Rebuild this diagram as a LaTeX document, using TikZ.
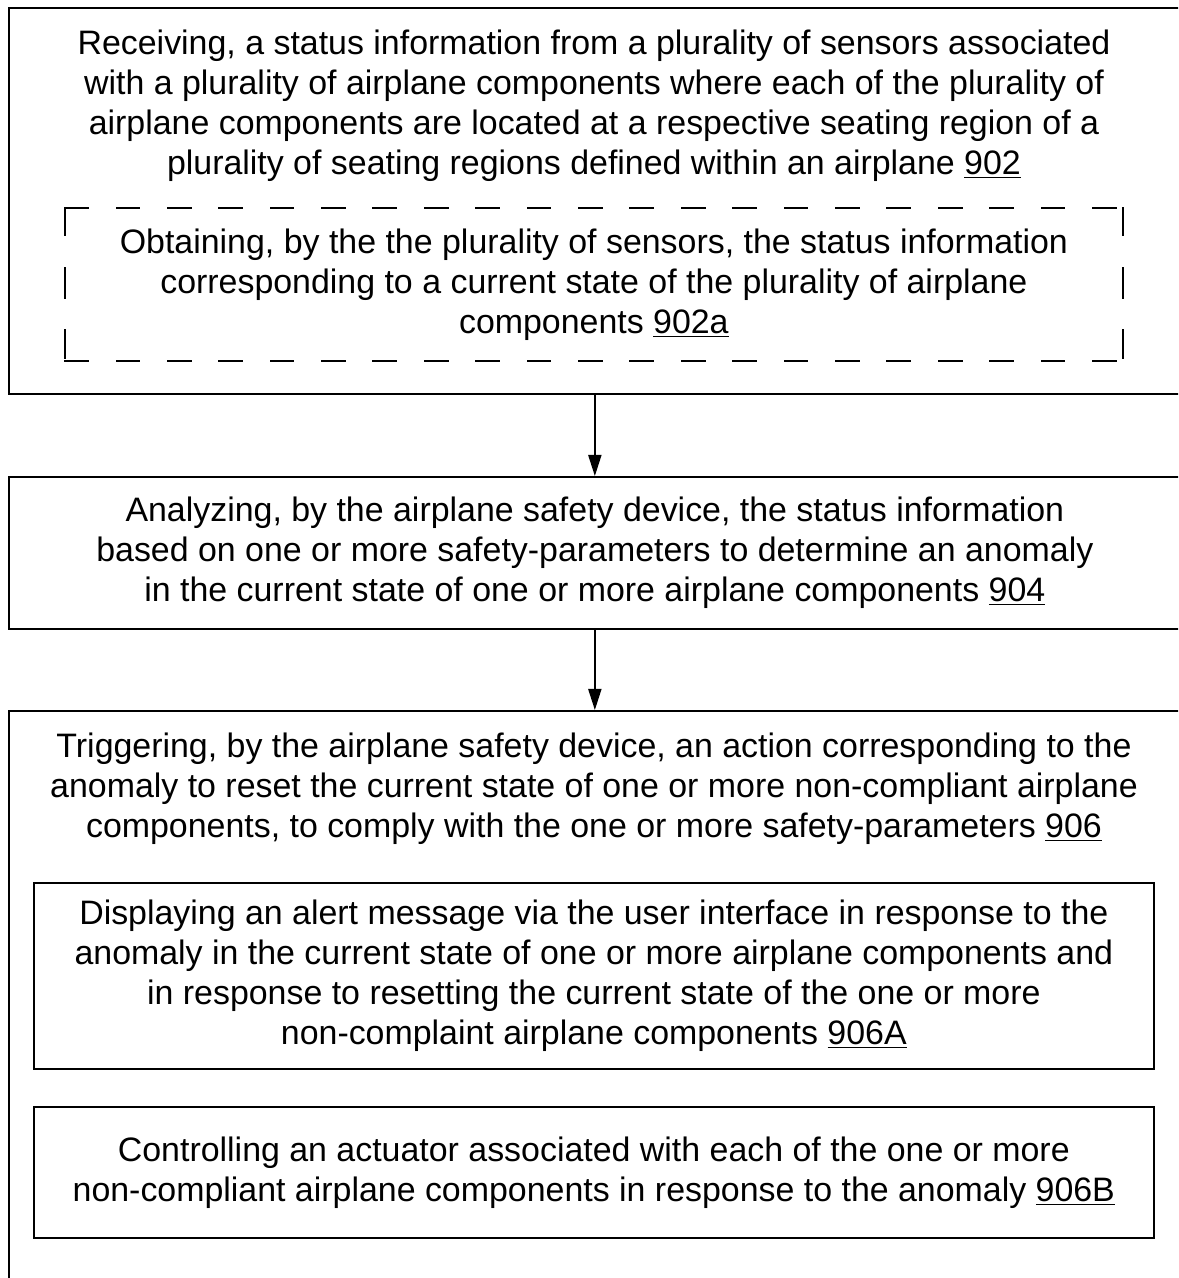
\documentclass[tikz,border=0pt]{standalone}
\usepackage{fontspec}
\setmainfont{Liberation Sans}
\usetikzlibrary{arrows.meta}
\usetikzlibrary{positioning}

\tikzset{
  stepbox/.style={draw, line width=1.1pt, inner sep=0pt, anchor=north west,
    align=center, font=\fontsize{19.3}{22.7}\selectfont},
  optbox/.style={stepbox, draw=none},
  hdash/.style={line width=1pt, line cap=rect, dash pattern=on 13.1pt off 16.15pt},
  vdash/.style={line width=1pt, line cap=rect, dash pattern=on 15.5pt off 18.5pt on 17.1pt off 18.5pt on 16pt},
  steptext/.style={align=center, inner sep=0pt, anchor=north,
    font=\fontsize{19.3}{22.7}\selectfont},
  flow/.style={-{Triangle[length=12pt,width=7.5pt]}, line width=0.8pt}
}

\begin{document}
\begin{tikzpicture}[x=0.02cm,y=-0.02cm]
\useasboundingbox (0,0) rectangle (1178,1278);
\clip (0,0) rectangle (1178,1278);

%================ STEP 902 ==================
\node[stepbox, minimum width=23.44cm, minimum height=7.72cm] (recv) at (8,7) {};
\node[steptext] (recvtext) at (594,30) {Receiving, a status information from a plurality of sensors associated\\
with a plurality of airplane components where each of the plurality of\\
airplane components are located at a respective seating region of a\\
plurality of seating regions defined within an airplane \underline{902}};

% optional sub-step (dashed, corners kept solid)
\node[optbox, minimum width=21.12cm, minimum height=3.02cm] (obtain) at (65,208) {Obtaining, by the the plurality of sensors, the status information\\
corresponding to a current state of the plurality of airplane\\
components \underline{902a}};
\draw[hdash] (obtain.north west) -- (obtain.north east);
\draw[hdash] (obtain.south west) -- (obtain.south east);
\draw[vdash] (obtain.north west) -- (obtain.south west);
\draw[vdash] (obtain.north east) -- (obtain.south east);

%================ STEP 904 ==================
\node[stepbox, minimum width=23.44cm, minimum height=3.04cm] (analyze) at (8,476) {Analyzing, by the airplane safety device, the status information\\
based on one or more safety-parameters to determine an anomaly\\
in the current state of one or more airplane components \underline{904}};

%================ STEP 906 ==================
\node[stepbox, minimum width=23.44cm, minimum height=11.8cm] (trigger) at (8,710) {};
\node[steptext] (triggertext) at (594,733) {Triggering, by the airplane safety device, an action corresponding to the\\
anomaly to reset the current state of one or more non-compliant airplane\\
components, to comply with the one or more safety-parameters \underline{906}};

\node[stepbox, minimum width=22.4cm, minimum height=3.72cm] (alert) at (33,882) {Displaying an alert message via the user interface in response to the\\
anomaly in the current state of one or more airplane components and\\
in response to resetting the current state of the one or more\\
non-complaint airplane components \underline{906A}};

\node[stepbox, minimum width=22.4cm, minimum height=2.62cm] (actuate) at (33,1106) {Controlling an actuator associated with each of the one or more\\
non-compliant airplane components in response to the anomaly \underline{906B}};

%================ ARROWS ==================
\draw[flow] (recv) -- (analyze);
\draw[flow] (analyze) -- (trigger);

\end{tikzpicture}
\end{document}
